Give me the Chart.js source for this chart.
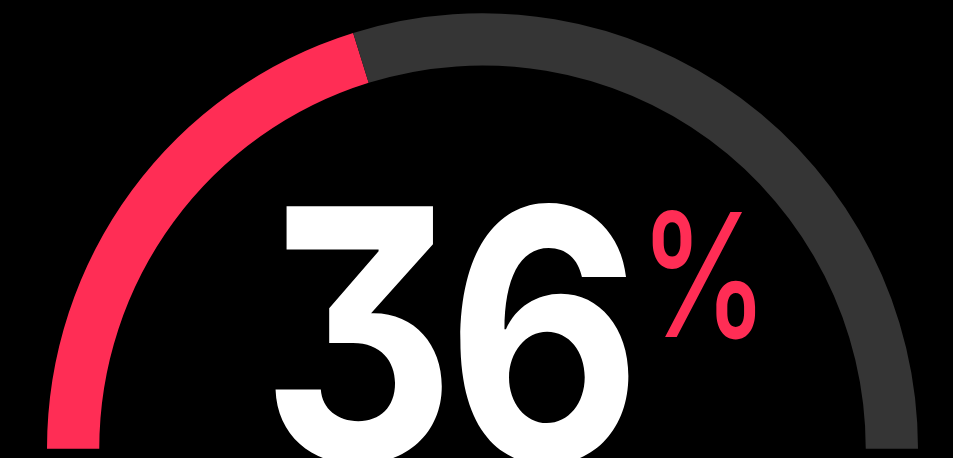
<!DOCTYPE html>
<html>
<head>
<meta charset="utf-8">
<script src="https://cdn.jsdelivr.net/npm/chart.js@4"></script>
<style>
  html, body { margin: 0; padding: 0; background: #000; }
  .wrap { position: relative; width: 953px; height: 458px; overflow: hidden; }
  #gauge { position: absolute; left: 0; top: 0; }
  .value {
    position: absolute; left: 261px; top: 159px;
    font-family: Inter, "Open Sans", sans-serif; font-weight: 700;
    font-size: 350px; line-height: 1; color: #fff;
    letter-spacing: -0.03em;
    font-feature-settings: "cv09" 1;
    transform: scaleX(0.86); transform-origin: left top;
  }
  .pct {
    position: absolute; left: 639px; top: 188px;
    font-family: Inter, "Open Sans", sans-serif; font-weight: 500;
    font-size: 172px; line-height: 1; color: #ff2d55;
    transform: scaleX(0.76); transform-origin: left top;
  }
</style>
</head>
<body>
<div class="wrap">
  <canvas id="gauge" width="953" height="458"></canvas>
  <div class="value" id="valueText"></div>
  <div class="pct">%</div>
</div>
<script>
const labels = ['Done', 'Remaining'];
const values = [40.4, 59.6];
const colors = ['#ff2d55', '#353535'];
const shownValue = '36';

document.getElementById('valueText').textContent = shownValue;

const ctx = document.getElementById('gauge').getContext('2d');
new Chart(ctx, {
    type: 'doughnut',
    data: {
        labels: labels,
        datasets: [{
            data: values,
            backgroundColor: colors,
            borderWidth: 0
        }]
    },
    options: {
        responsive: false,
        animation: false,
        rotation: -90,
        circumference: 180,
        cutout: '88%',
        layout: {
            padding: { left: 47, right: 35, top: 13, bottom: 9 }
        },
        plugins: {
            legend: { display: false },
            tooltip: { enabled: false }
        }
    }
});
</script>
</body>
</html>
